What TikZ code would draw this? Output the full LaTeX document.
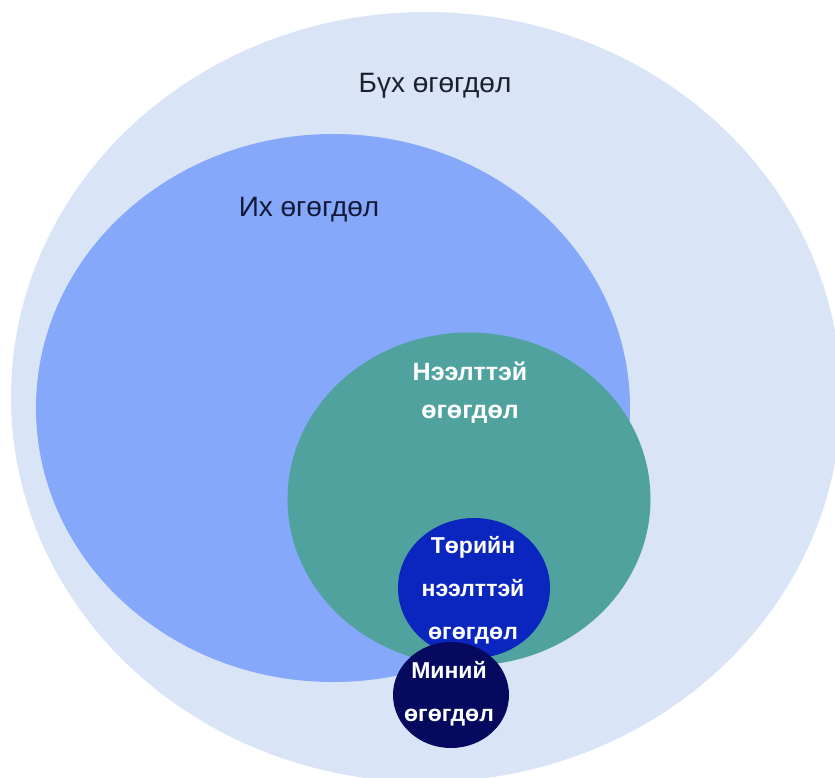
\documentclass[tikz,border=0pt]{standalone}
\usepackage{fontspec}
\setmainfont{Liberation Sans}
\usetikzlibrary{shapes.geometric}
\definecolor{cOuter}{HTML}{D9E5F7}
\definecolor{cBig}{HTML}{85A8FB}
\definecolor{cTeal}{HTML}{4FA29E}
\definecolor{cGov}{HTML}{0A26BE}
\definecolor{cMine}{HTML}{050A5E}
\definecolor{cDark}{HTML}{1C1F2E}
\definecolor{cNavyTxt}{HTML}{141A3A}
\tikzset{
  blob/.style={ellipse, draw=none, inner sep=0pt},
  darklbl/.style={font=\fontsize{28}{32}\selectfont, inner sep=0pt},
  whitelbl/.style={font=\bfseries\fontsize{23}{43}\selectfont, text=white, align=center, inner sep=0pt}
}
\begin{document}
\begin{tikzpicture}[x=1pt,y=-1pt]
\useasboundingbox (0,0) rectangle (835,778);
\clip (0,0) rectangle (835,778);
\node[blob, fill=cOuter, minimum width=830pt, minimum height=770pt] (all) at (426,397) {};
\node[blob, fill=cBig, minimum width=594pt, minimum height=548pt] (big) at (333,408) {};
\node[blob, fill=cTeal, minimum width=363pt, minimum height=333pt] (open) at (469,499) {};
\node[blob, fill=cGov, minimum width=152pt, minimum height=140pt] (gov) at (474,588) {};
\node[blob, fill=cMine, minimum width=116pt, minimum height=106pt] (mine) at (451,695) {};
\node[darklbl, text=cDark] (tall) at (435,86) {Бүх өгөгдөл};
\node[darklbl, text=cNavyTxt] (tbig) at (309,210) {Их өгөгдөл};
\node[whitelbl, font=\bfseries\fontsize{25}{38}\selectfont] (topen) at (470,393) {Нээлттэй\\өгөгдөл};
\node[whitelbl] (tgov) at (473,590) {Төрийн\\нээлттэй\\өгөгдөл};
\node[whitelbl] (tmine) at (449,694) {Миний\\өгөгдөл};
\end{tikzpicture}
\end{document}
